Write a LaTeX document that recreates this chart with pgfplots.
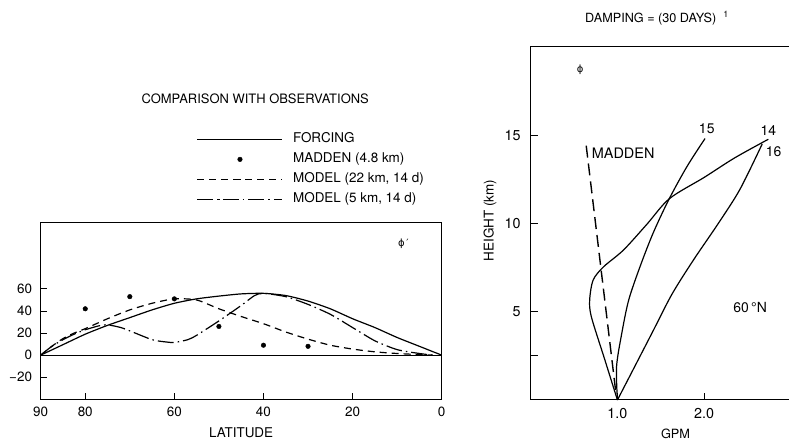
\documentclass[border=0pt]{standalone}
\usepackage{fontspec}
\setmainfont{TeX Gyre Heros}
\newfontfamily\dejavu{DejaVu Sans}
\usepackage{pgfplots}
\pgfplotsset{compat=1.18}
\begin{document}
\begin{tikzpicture}
\useasboundingbox (0,0) rectangle (789bp,442bp);
% ---------------- left panel ----------------
\begin{axis}[
  at={(40.7bp,42.7bp)}, anchor=south west, scale only axis,
  width=401bp, height=176.6bp,
  x dir=reverse, xmin=0, xmax=90, ymin=-40, ymax=120,
  clip=false,
  /pgf/number format/assume math mode=true,
  xtick={0,20,40,60,80,90}, xticklabels={0,20,40,60,80,90},
  ytick={-20,0,20,40,60}, yticklabels={−20,0,20,40,60},
  tick align=inside, xtick pos=bottom, ytick pos=left,
  major tick length=6bp,
  tick style={line width=0.9bp, black},
  axis line style={line width=1bp},
  ticklabel style={font=\fontsize{13.5}{15}\selectfont},
  xticklabel style={anchor=center, inner sep=0pt, yshift=-12.5bp},
  yticklabel style={anchor=east, inner sep=0pt, xshift=-8.5bp},
  legend style={draw=none, fill=none, at={(0.389,1.507)}, anchor=north west,
    inner sep=0pt, column sep=10bp, row sep=8bp,
    font=\fontsize{13.5}{15}\selectfont,
    nodes={inner sep=0pt, text height=9.5bp, text depth=2.5bp}},
  legend cell align=left,
  legend image code/.code={\draw[mark repeat=2,mark phase=2,#1] plot coordinates {(0bp,0bp)(42.5bp,0bp)(85bp,0bp)};},
]
\addplot[black, line width=1.2bp, smooth, tension=0.4] coordinates {
 (90,0)(85,9.5)(80,19)(75,27)(70,34)(65,41)(60,47)(55,51)(50,53.5)(45,55.5)(40,56)(35,54)(30,49)(25,42)(20,33)(15,25)(10,16)(5,8)(0,0)};
\addlegendentry{FORCING}
\addplot[only marks, mark=*, mark size=2.3bp, black] coordinates {
 (80,42)(70,53)(60,51)(50,26)(40,9)(30,8)};
\addlegendentry{MADDEN (4.8 km)}
\addplot[black, line width=1.2bp, dash pattern=on 7bp off 5bp, smooth, tension=0.4] coordinates {
 (90,0)(87.5,8)(85,15)(82.5,20)(80,24)(75,33)(70,41)(65,47)(60,51)(55,50)(50,42)(45,35)(40,28.5)(35,21)(30,14.5)(25,9)(20,5.5)(15,3)(10,1.5)(5,0.5)(2,0)};
\addlegendentry{MODEL (22 km, 14 d)}
\addplot[black, line width=1.2bp, dash pattern=on 16bp off 4bp on 1.5bp off 4bp, smooth, tension=0.4] coordinates {
 (90,0)(87.5,8)(85,14)(82.5,19)(80,23)(77,26.5)(75,27.5)(72,25)(70,22)(65,14)(62,12)(60,11.5)(57,14)(55,18)(50,31)(45,45)(42,54)(40,56)(35,53)(30,46)(25,37)(20,25)(15,13)(10,5)(5,1.5)(2,0)};
\addlegendentry{MODEL (5 km, 14 d)}
\addplot[black, line width=1bp, forget plot] coordinates {(90,0)(0,0)};
\node[font=\dejavu\fontsize{10}{12}\selectfont] at (axis cs:8.6,101) {ϕ\,′};
\node[font=\fontsize{13}{15}\selectfont] at (axis description cs:0.535,1.70) {COMPARISON WITH OBSERVATIONS};
\node[font=\fontsize{13.5}{15}\selectfont] at (axis description cs:0.5,-0.19) {LATITUDE};
\end{axis}
% ---------------- right panel ----------------
\begin{axis}[
  at={(530.7bp,42bp)}, anchor=south west, scale only axis,
  width=259.3bp, height=353.3bp,
  xmin=0, xmax=2.99, ymin=0, ymax=20,
  clip=false,
  /pgf/number format/assume math mode=true,
  xtick={1,2}, xticklabels={1.0,2.0},
  ytick={2.5,5,10,15}, yticklabels={,5,10,15},
  tick align=inside, xtick pos=bottom, ytick pos=left,
  major tick length=7bp,
  tick style={line width=0.9bp, black},
  axis line style={line width=1bp},
  ticklabel style={font=\fontsize{14.4}{16}\selectfont},
  xticklabel style={anchor=center, inner sep=0pt, yshift=-13.3bp},
  yticklabel style={anchor=east, inner sep=0pt, xshift=-10bp},
]
\addplot[black, line width=1.2bp, smooth, tension=0.5] coordinates {
 (1.0,0)(0.85,2.35)(0.70,4.7)(0.68,5.66)(0.72,6.79)(0.84,7.54)(1.07,8.49)(1.34,9.95)(1.6,11.4)(2.0,12.6)(2.35,13.7)(2.74,14.76)};
\addplot[black, line width=1.2bp, smooth, tension=0.5] coordinates {
 (1.0,0)(0.99,1.89)(1.05,3.77)(1.13,5.66)(1.26,7.54)(1.41,9.43)(1.59,11.32)(1.80,13.2)(2.01,14.8)};
\addplot[black, line width=1.2bp, smooth, tension=0.5] coordinates {
 (1.0,0)(1.2,1.9)(1.41,3.9)(1.63,6.0)(1.88,7.95)(2.15,9.9)(2.41,11.9)(2.67,14.5)};
\addplot[black, line width=1.4bp, dash pattern=on 12bp off 6bp] coordinates {(0.64,14.4)(0.98,0.5)};
\node[font=\fontsize{14}{16}\selectfont] at (axis cs:2.03,15.37) {15};
\node[font=\fontsize{14}{16}\selectfont] at (axis cs:2.74,15.28) {14};
\node[font=\fontsize{14}{16}\selectfont] at (axis cs:2.80,14.05) {16};
\node[font=\fontsize{14}{16}\selectfont] at (axis cs:2.53,5.24) {60\,°N};
\node[font=\fontsize{14.5}{16}\selectfont, anchor=west, inner sep=0pt] at (axis cs:0.703,13.96) {MADDEN};
\node[font=\dejavu\fontsize{10}{12}\selectfont] at (axis cs:0.569,18.68) {ϕ};
\node[font=\fontsize{12.8}{14}\selectfont] at (axis cs:1.67,-1.9) {GPM};
\node[font=\fontsize{13.5}{15}\selectfont, rotate=90] at (axis description cs:-0.157,0.508) {HEIGHT (km)};
\end{axis}
\node[font=\fontsize{12.7}{14}\selectfont, anchor=west, inner sep=0pt] at (585bp,423.7bp) {DAMPING = (30 DAYS)\hspace{7bp}\raisebox{4.5bp}{\fontsize{9}{10}\selectfont 1}};
\end{tikzpicture}
\end{document}
